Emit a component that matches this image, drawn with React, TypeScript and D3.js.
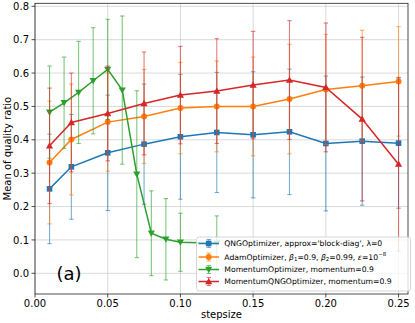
import React from "react";
import * as d3 from "d3";

const xTicks = [0, 0.05, 0.1, 0.15, 0.2, 0.25];
const yTicks = [0, 0.1, 0.2, 0.3, 0.4, 0.5, 0.6, 0.7, 0.8];

const stepsMain = [0.01, 0.025, 0.05, 0.075, 0.1, 0.125, 0.15, 0.175, 0.2, 0.225, 0.25];
const qngMean = [0.253, 0.319, 0.361, 0.387, 0.409, 0.422, 0.415, 0.424, 0.389, 0.396, 0.39];
const qngErr = [0.164, 0.157, 0.173, 0.18, 0.187, 0.18, 0.189, 0.188, 0.202, 0.192, 0.195];
const adamMean = [0.332, 0.401, 0.453, 0.47, 0.495, 0.5, 0.5, 0.522, 0.551, 0.562, 0.575];
const adamErr = [0.184, 0.166, 0.147, 0.141, 0.137, 0.136, 0.148, 0.164, 0.165, 0.166, 0.164];
const mqngMean = [0.382, 0.452, 0.479, 0.509, 0.534, 0.546, 0.564, 0.579, 0.557, 0.462, 0.327];
const mqngErr = [0.173, 0.148, 0.142, 0.154, 0.146, 0.157, 0.161, 0.178, 0.193, 0.245, 0.26];

const stepsMom = [0.01, 0.02, 0.03, 0.04, 0.05, 0.06, 0.07, 0.08, 0.09, 0.1, 0.125];
const momMean = [0.483, 0.511, 0.542, 0.577, 0.611, 0.549, 0.297, 0.12, 0.102, 0.093, 0.09];
const momErr = [0.138, 0.137, 0.153, 0.159, 0.15, 0.222, 0.25, 0.127, 0.122, 0.087, 0.082];

const colors = { blue: "#1f77b4", orange: "#ff7f0e", green: "#2ca02c", red: "#d62728" };

type Series = { name: string; xs: number[]; ys: number[]; es: number[]; color: string; marker: string };

const series: Series[] = [
  { name: "qng", xs: stepsMain, ys: qngMean, es: qngErr, color: colors.blue, marker: "square" },
  { name: "adam", xs: stepsMain, ys: adamMean, es: adamErr, color: colors.orange, marker: "circle" },
  { name: "mom", xs: stepsMom, ys: momMean, es: momErr, color: colors.green, marker: "down" },
  { name: "mqng", xs: stepsMain, ys: mqngMean, es: mqngErr, color: colors.red, marker: "up" },
];

const FONT = "DejaVu Sans, Liberation Sans, sans-serif";

function Marker({ kind, cx, cy, color }: { kind: string; cx: number; cy: number; color: string }) {
  if (kind === "square") return <rect x={cx - 2.8} y={cy - 2.8} width={5.6} height={5.6} fill={color} />;
  if (kind === "circle") return <circle cx={cx} cy={cy} r={3} fill={color} />;
  const s = 3.6;
  if (kind === "down")
    return <path d={`M${cx - s},${cy - s * 0.75}L${cx + s},${cy - s * 0.75}L${cx},${cy + s}Z`} fill={color} />;
  return <path d={`M${cx - s},${cy + s * 0.75}L${cx + s},${cy + s * 0.75}L${cx},${cy - s}Z`} fill={color} />;
}

export default function App() {
  const L = 35, R = 408, T = 3.3, B = 294;
  const x = d3.scaleLinear().domain([0, 0.2565]).range([L, R]);
  const y = d3.scaleLinear().domain([-0.062, 0.809]).range([B, T]);
  const line = d3.line<[number, number]>().x((d) => x(d[0])).y((d) => y(d[1]));
  const cap = 2.2;

  const legendRows = [
    { color: colors.blue, marker: "square", y: 243.5 },
    { color: colors.orange, marker: "circle", y: 257 },
    { color: colors.green, marker: "down", y: 269.5 },
    { color: colors.red, marker: "up", y: 281.5 },
  ];

  return (
    <svg width={415} height={323} style={{ position: "absolute", left: 0, top: 0, background: "#fff" }} fontFamily={FONT}>
      <rect x={0} y={0} width={415} height={323} fill="#fff" />
      {/* grid */}
      {xTicks.map((t) => (
        <line key={"gx" + t} x1={x(t)} x2={x(t)} y1={T} y2={B} stroke="#b0b0b0" strokeOpacity={0.6} strokeWidth={0.8} />
      ))}
      {yTicks.map((t) => (
        <line key={"gy" + t} x1={L} x2={R} y1={y(t)} y2={y(t)} stroke="#b0b0b0" strokeOpacity={0.6} strokeWidth={0.8} />
      ))}
      {/* series */}
      {series.map((s) => {
        const pts: [number, number][] = s.xs.map((v, i) => [v, s.ys[i]]);
        return (
          <g key={s.name}>
            {s.xs.map((v, i) => {
              const cx = x(v);
              const y1 = y(s.ys[i] + s.es[i]);
              const y2 = y(s.ys[i] - s.es[i]);
              return (
                <g key={i} stroke={s.color} strokeOpacity={0.6} strokeWidth={1.1}>
                  <line x1={cx} x2={cx} y1={y1} y2={y2} />
                  <line x1={cx - cap} x2={cx + cap} y1={y1} y2={y1} />
                  <line x1={cx - cap} x2={cx + cap} y1={y2} y2={y2} />
                </g>
              );
            })}
            <path d={line(pts) || ""} fill="none" stroke={s.color} strokeWidth={1.5} />
            {pts.map((p, i) => (
              <Marker key={i} kind={s.marker} cx={x(p[0])} cy={y(p[1])} color={s.color} />
            ))}
          </g>
        );
      })}
      {/* spines */}
      <rect x={L} y={T} width={R - L} height={B - T} fill="none" stroke="#222" strokeWidth={0.8} />
      {/* ticks */}
      {xTicks.map((t) => (
        <g key={"xt" + t}>
          <line x1={x(t)} x2={x(t)} y1={B} y2={B + 3.5} stroke="#222" strokeWidth={0.8} />
          <text x={x(t)} y={B + 13} fontSize={10} textAnchor="middle" fill="#000">
            {d3.format(".2f")(t)}
          </text>
        </g>
      ))}
      {yTicks.map((t) => (
        <g key={"yt" + t}>
          <line x1={L - 3.5} x2={L} y1={y(t)} y2={y(t)} stroke="#222" strokeWidth={0.8} />
          <text x={L - 6} y={y(t) + 3.6} fontSize={10} textAnchor="end" fill="#000">
            {d3.format(".1f")(t)}
          </text>
        </g>
      ))}
      <text x={(L + R) / 2} y={318} fontSize={10} textAnchor="middle" fill="#000">stepsize</text>
      <text transform={`translate(10.5,${(T + B) / 2}) rotate(-90)`} fontSize={10} textAnchor="middle" fill="#000">
        Mean of quality ratio
      </text>
      <text x={56.5} y={279.5} fontSize={18} fill="#000">(a)</text>
      {/* legend */}
      <rect x={196.5} y={237} width={214} height={54} rx={2.5} fill="#fff" fillOpacity={0.8} stroke="#cccccc" strokeWidth={0.8} />
      {legendRows.map((r, i) => (
        <g key={i}>
          <line x1={198.5} x2={219} y1={r.y} y2={r.y} stroke={r.color} strokeWidth={1.5} />
          <g stroke={r.color} strokeOpacity={0.6} strokeWidth={1.1}>
            <line x1={208.7} x2={208.7} y1={r.y - 4} y2={r.y + 4} />
            <line x1={206.5} x2={211} y1={r.y - 4} y2={r.y - 4} />
            <line x1={206.5} x2={211} y1={r.y + 4} y2={r.y + 4} />
          </g>
          <Marker kind={r.marker} cx={208.7} cy={r.y} color={r.color} />
        </g>
      ))}
      <g fontSize={7.7} fill="#000">
        <text x={224.3} y={legendRows[0].y + 2.8}>QNGOptimizer, approx='block-diag', λ=0</text>
        <text x={224.3} y={legendRows[1].y + 2.8}>
          AdamOptimizer, <tspan fontStyle="italic">β</tspan>
          <tspan fontSize={5.4} dy={1.6}>1</tspan>
          <tspan dy={-1.6}>=0.9, </tspan>
          <tspan fontStyle="italic">β</tspan>
          <tspan fontSize={5.4} dy={1.6}>2</tspan>
          <tspan dy={-1.6}>=0.99, </tspan>
          <tspan fontStyle="italic">ε</tspan>
          <tspan>=10</tspan>
          <tspan fontSize={5.4} dy={-3.5}>−8</tspan>
        </text>
        <text x={224.3} y={legendRows[2].y + 2.8}>MomentumOptimizer, momentum=0.9</text>
        <text x={224.3} y={legendRows[3].y + 2.8}>MomentumQNGOptimizer, momentum=0.9</text>
      </g>
    </svg>
  );
}
